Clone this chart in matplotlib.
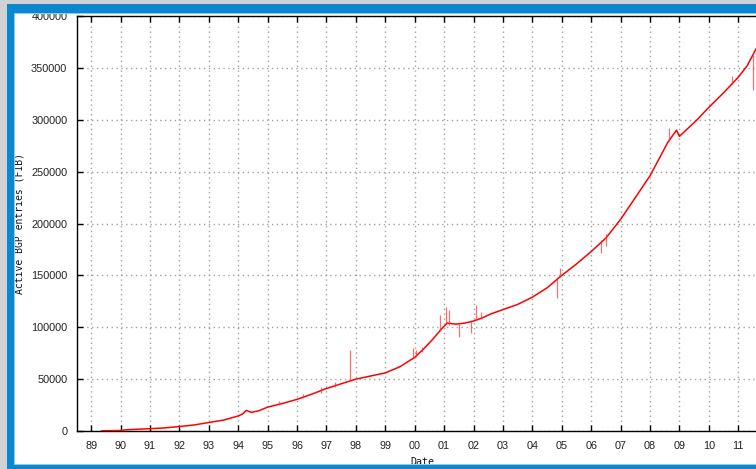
import matplotlib
matplotlib.use("Agg")
import matplotlib.pyplot as plt
from matplotlib.patches import Rectangle

# ---- data ----
years = [1989.35, 1990.0, 1990.2, 1991.0, 1991.5, 1992.0, 1992.5, 1993.0, 1993.5,
         1994.0, 1994.15, 1994.27, 1994.45, 1994.7, 1995.0, 1995.5, 1996.0, 1996.5,
         1997.0, 1997.5, 1998.0, 1998.5, 1999.0, 1999.5, 2000.0, 2000.3, 2000.6,
         2000.9, 2001.1, 2001.4, 2001.7, 2002.0, 2002.3, 2002.6, 2003.0, 2003.5,
         2004.0, 2004.5, 2005.0, 2005.5, 2006.0, 2006.5, 2007.0, 2007.5, 2008.0,
         2008.3, 2008.6, 2008.9, 2009.0, 2009.3, 2009.6, 2010.0, 2010.5, 2011.0,
         2011.3, 2011.6, 2011.75]
entries = [200, 500, 1200, 2200, 3000, 4300, 5800, 8200, 10500,
           14500, 16500, 19800, 18000, 19500, 23000, 26500, 30500, 35500,
           41000, 45500, 50000, 53000, 56000, 62000, 71000, 79000, 88000,
           98000, 104000, 103000, 104000, 106000, 109000, 113000, 117000, 122000,
           129000, 138000, 150000, 161000, 173000, 186000, 204000, 225000, 246000,
           262000, 278000, 290000, 284000, 292000, 300000, 312000, 326000, 341000,
           352000, 368000, 375000]

# short-lived excursions (year, low, high)
spike_years = [1995.4, 1996.2, 1996.8, 1997.3, 1997.8, 1999.95, 2000.05, 2000.25,
               2000.85, 2001.05, 2001.15, 2001.5, 2001.9, 2002.1, 2002.25,
               2004.85, 2004.95, 2006.35, 2006.5, 2008.65, 2010.8, 2011.5, 2011.68]
spike_low = [25000, 32000, 37000, 42000, 50000, 70000, 71000, 76000,
             96000, 103000, 102000, 91000, 94000, 107000, 108000,
             128000, 148000, 172000, 178000, 280000, 334000, 329000, 372000]
spike_high = [29000, 36000, 42000, 47000, 78000, 80000, 78000, 81000,
              112000, 120000, 117000, 104000, 106000, 121000, 115000,
              148000, 157000, 184000, 190000, 292000, 342000, 362000, 383000]

year_ticks = list(range(1989, 2012))
year_labels = ['89', '90', '91', '92', '93', '94', '95', '96', '97', '98', '99',
               '00', '01', '02', '03', '04', '05', '06', '07', '08', '09', '10', '11']
y_ticks = [0, 50000, 100000, 150000, 200000, 250000, 300000, 350000, 400000]

# ---- figure ----
W, H = 756, 469
fig = plt.figure(figsize=(W / 100, H / 100), dpi=100, facecolor='white')

left_px, right_px, top_px, bottom_px = 77, 767.7, 16, 431
ax = fig.add_axes([left_px / W, 1 - bottom_px / H,
                   (right_px - left_px) / W, (bottom_px - top_px) / H])

ax.plot(years, entries, color='#ff0000', lw=1.1, zorder=3)
ax.vlines(spike_years, spike_low, spike_high, color='#ff3030', lw=0.9,
          alpha=0.7, zorder=3)

ax.set_xlim(1988.52, 2012.0)
ax.set_ylim(0, 400000)
ax.set_xticks(year_ticks)
ax.set_xticklabels(year_labels)
ax.set_yticks(y_ticks)
ax.set_yticklabels([str(v) for v in y_ticks])

ax.grid(True, color='#a0a0a0', linestyle=(0, (1, 2.5)), lw=1.0)
ax.set_axisbelow(True)

for s in ['left', 'bottom', 'top']:
    ax.spines[s].set_color('black')
    ax.spines[s].set_linewidth(1.0)
ax.spines['right'].set_visible(False)

ax.tick_params(direction='in', length=4, width=1.0, top=True, right=False,
               colors='black', labelcolor='#222222', labelsize=7.8, pad=7)
for lab in ax.get_xticklabels() + ax.get_yticklabels():
    lab.set_family('Liberation Sans')

ax.set_ylabel('Active BGP entries (FIB)', family='DejaVu Sans Mono', fontsize=7,
              color='#111111', va='center')
ax.yaxis.set_label_coords((19 - left_px) / (right_px - left_px), 0.5)
ax.set_xlabel('Date', family='DejaVu Sans Mono', fontsize=7.2, color='#111111')
ax.xaxis.set_label_coords(0.5, -(462 - bottom_px) / (bottom_px - top_px))
ax.xaxis.label.set_va('center')

# ---- frame decoration ----
def rect(x0, y0, x1, y1, color):
    fig.add_artist(Rectangle((x0 / W, 1 - y1 / H), (x1 - x0) / W, (y1 - y0) / H,
                             transform=fig.transFigure, facecolor=color,
                             edgecolor='none', zorder=10))

gray = '#d2d2d2'
blue = '#0a87cf'
light = '#8ccbec'
rect(0, 0, 7, H, gray)
rect(0, 0, W, 4, gray)
rect(7, 4, 14, H, blue)
rect(7, 4, W, 13, blue)
rect(7, 465, W, H, blue)
rect(14, 13, 15, 464, light)
rect(14, 13, W, 14, light)
rect(14, 464, W, 465, light)

fig.savefig('out.png', dpi=100, facecolor='white')
